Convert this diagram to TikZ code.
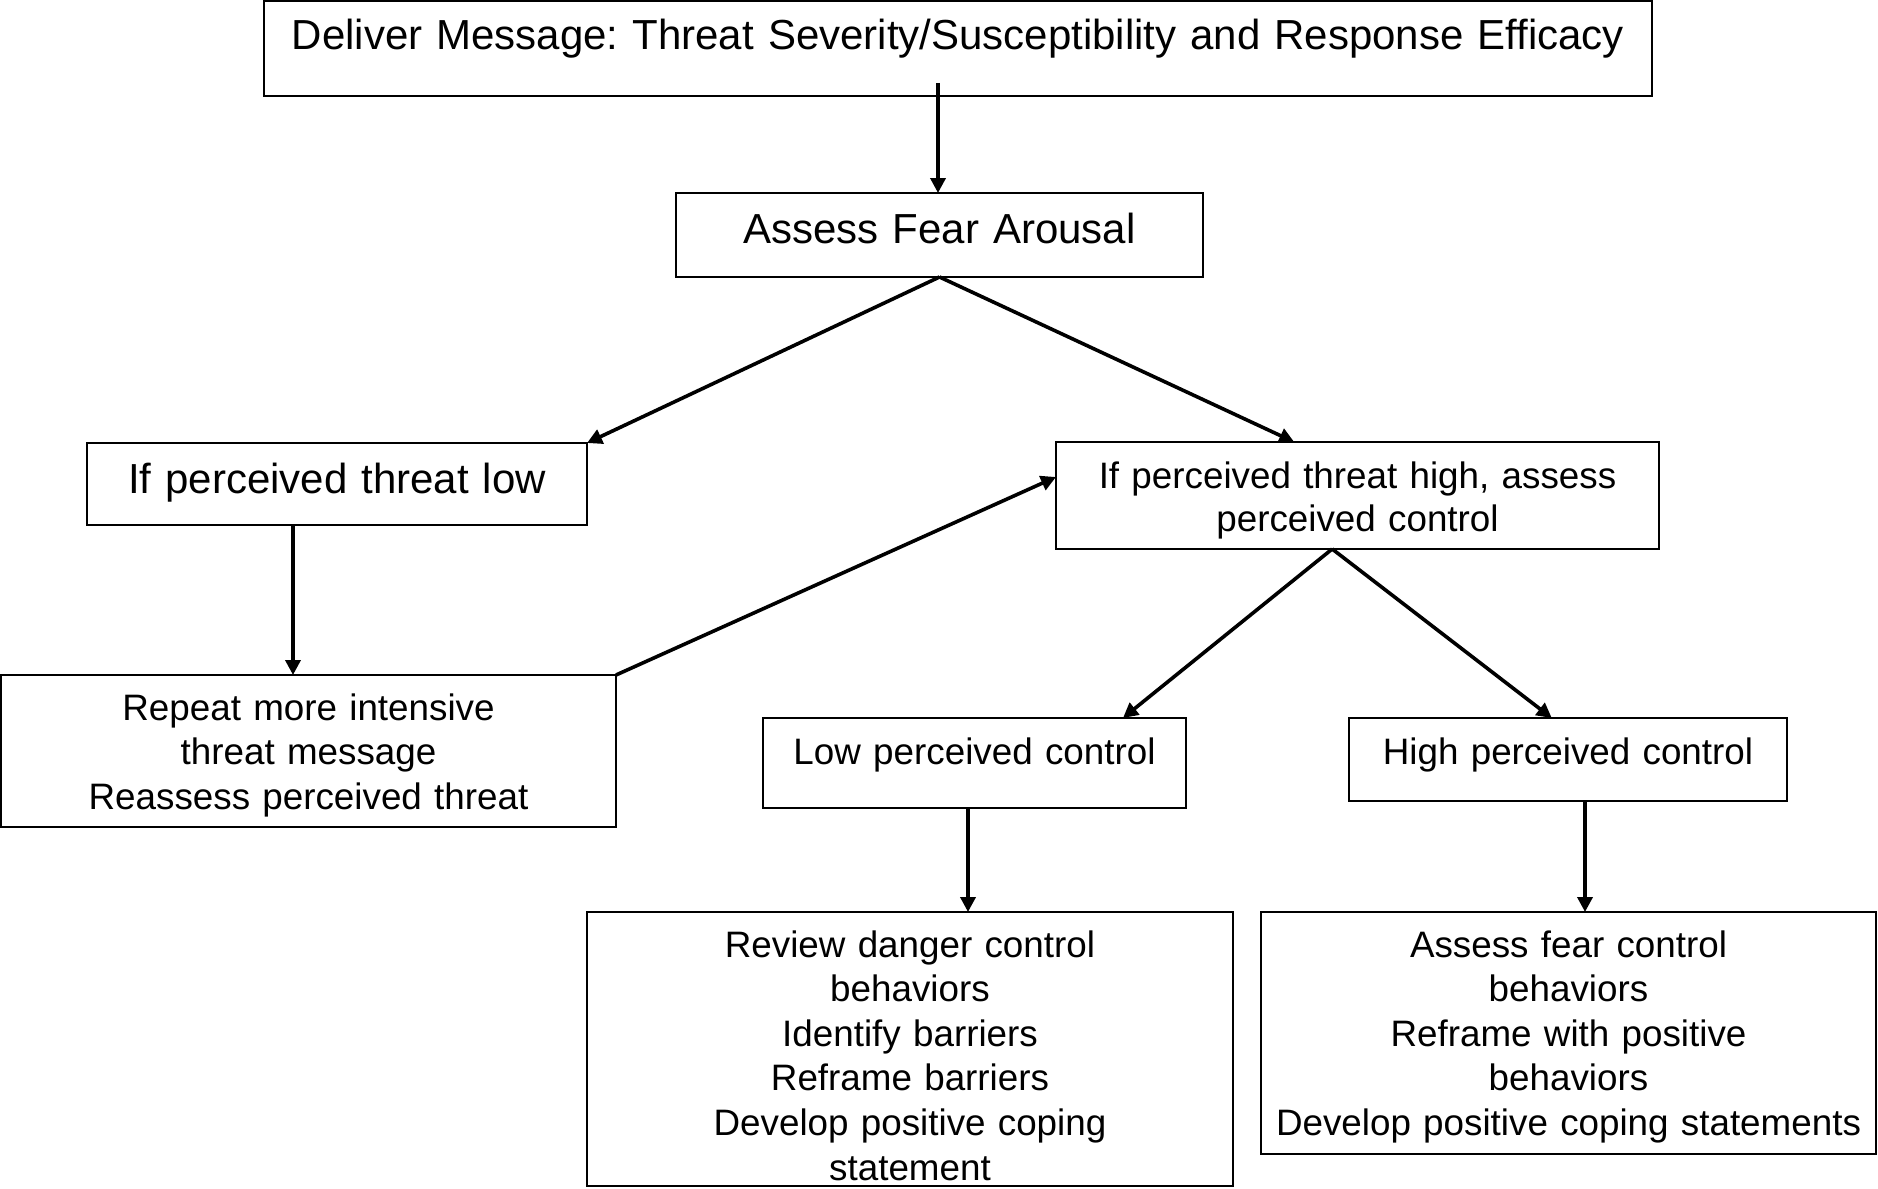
\documentclass[tikz,border=0pt]{standalone}
\usepackage{fontspec}
\setmainfont{Liberation Sans}
\usetikzlibrary{arrows.meta,calc}
\begin{document}
\frenchspacing
\begin{tikzpicture}[x=1pt,y=-1pt,
  box/.style={draw=black,line width=2pt,inner sep=0pt,outer sep=0pt,anchor=north west,align=center},
  big/.style={font=\fontsize{42}{51}\selectfont},
  small/.style={font=\fontsize{36.8}{44.6}\selectfont},
  arr/.style={line width=3.6pt,-{Triangle[length=15pt,width=15pt]}}]
\useasboundingbox (0,0) rectangle (1878,1188);
\node[box,big,text width=1388pt,text height=48.5pt,text depth=46pt] (b1) at (264,1.5)
  {Deliver Message: Threat Severity/Susceptibility and Response Efficacy};
\node[box,big,text width=527pt,text height=50pt,text depth=34pt] (b2) at (676,193)
  {Assess Fear Arousal};
\node[box,big,text width=500pt,text height=50pt,text depth=32pt] (b3) at (87,443)
  {If perceived threat low};
\node[box,small,font=\fontsize{36.8}{43}\selectfont,text width=603pt,text height=46pt,text depth=61pt] (b4) at (1056,442)
  {If perceived threat high, assess\\perceived control};
\node[box,small,text width=615pt,text height=45pt,text depth=107pt] (b5) at (1,675)
  {Repeat more intensive\\threat message\\Reassess perceived threat};
\node[box,small,text width=423pt,text height=46pt,text depth=44pt] (b6) at (763,718)
  {Low perceived control};
\node[box,small,text width=438pt,text height=46pt,text depth=37pt] (b7) at (1349,718)
  {High perceived control};
\node[box,small,text width=646pt,text height=45pt,text depth=229pt] (b8) at (587,912)
  {Review danger control\\behaviors\\Identify barriers\\Reframe barriers\\Develop positive coping\\statement};
\node[box,small,text width=615pt,text height=45pt,text depth=197pt] (b9) at (1261,912)
  {Assess fear control\\behaviors\\Reframe with positive\\behaviors\\Develop positive coping statements};
\coordinate (s1) at (938,83);
\coordinate (x4) at (293,0);
\coordinate (x8) at (968,0);
\coordinate (x9) at (1585,0);
\coordinate (ap) at ($(b4.south west)!0.458!(b4.south east)$);
\draw[arr] (s1) -- (s1 |- b2.north);
\draw[arr] (b2.south) -- (b3.north east);
\draw[arr] (b2.south) -- ($(b4.north west)!0.395!(b4.north east)$);
\draw[arr] (b3.south -| x4) -- (b5.north -| x4);
\draw[arr] (b5.north east) -- ($(b4.north west)!0.327!(b4.south west)$);
\draw[arr] (ap) -- ($(b6.north west)!0.851!(b6.north east)$);
\draw[arr] (ap) -- ($(b7.north west)!0.463!(b7.north east)$);
\draw[arr] (b6.south -| x8) -- (b8.north -| x8);
\draw[arr] (b7.south -| x9) -- (b9.north -| x9);
\end{tikzpicture}
\end{document}
